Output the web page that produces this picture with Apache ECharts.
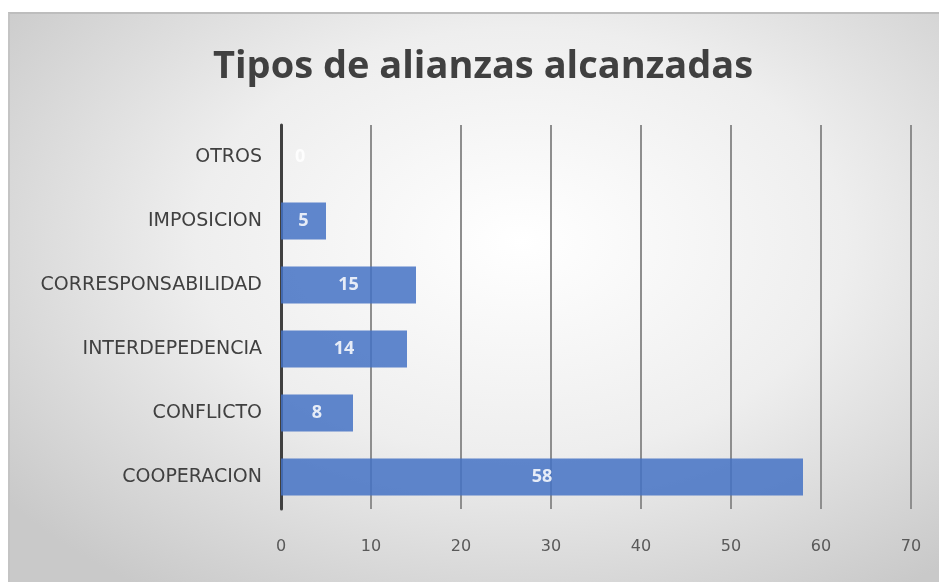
<!DOCTYPE html>
<html>
<head>
<meta charset="utf-8">
<script src="https://cdn.jsdelivr.net/npm/echarts@6/dist/echarts.min.js"></script>
<style>
  html, body { margin: 0; padding: 0; background: #fff; }
  #card {
    position: absolute; left: 8px; top: 12px; width: 931px; height: 570px;
    border-top: 2px solid #bdbdbd; border-left: 2px solid #c4c4c4; box-sizing: border-box;
    background: radial-gradient(ellipse 70% 75% at 55% 40%, #ffffff 0%, #eeeeee 50%, #c9c9c9 100%);
  }
  #chart { position: absolute; left: 0; top: 0; width: 939px; height: 582px; }
</style>
</head>
<body>
<div id="card"></div>
<div id="chart"></div>
<script>
// categories listed bottom to top, as the category axis draws them
const categories = ['COOPERACION', 'CONFLICTO', 'INTERDEPEDENCIA', 'CORRESPONSABILIDAD', 'IMPOSICION', 'OTROS'];
const values = [58, 8, 14, 15, 5, 0];
const xTicks = [0, 10, 20, 30, 40, 50, 60, 70];

const chart = echarts.init(document.getElementById('chart'));

// zero-width bars get their label pushed to the right of the axis
const barData = values.map(v => v === 0
    ? { value: v, label: { position: 'right', distance: 14 } }
    : v);

chart.setOption({
    backgroundColor: 'transparent',
    title: {
        text: 'Tipos de alianzas alcanzadas',
        left: 208,
        top: 43,
        textStyle: { fontFamily: 'Open Sans', fontSize: 38, fontWeight: 'bold', color: '#404040' }
    },
    grid: { left: 281, right: 28, top: 125, bottom: 73 },
    xAxis: {
        type: 'value',
        min: xTicks[0],
        max: xTicks[xTicks.length - 1],
        interval: 10,
        axisLine: { show: false },
        axisTick: { show: false },
        axisLabel: { color: '#595959', fontSize: 16, fontFamily: 'DejaVu Sans', margin: 30 },
        splitLine: { lineStyle: { color: '#8e8e8e', width: 2 } }
    },
    yAxis: {
        type: 'category',
        data: categories,
        axisLine: { lineStyle: { color: '#404040', width: 3 } },
        axisTick: { show: false },
        axisLabel: { color: '#404040', fontSize: 19, fontFamily: 'DejaVu Sans', margin: 19 }
    },
    series: [{
        type: 'bar',
        data: barData,
        barWidth: 37,
        itemStyle: { color: '#4472c4', opacity: 0.85 },
        label: {
            show: true,
            position: 'inside',
            color: '#ffffff',
            fontWeight: 'bold',
            fontSize: 18,
            fontFamily: 'Open Sans'
        }
    }]
});
</script>
</body>
</html>
